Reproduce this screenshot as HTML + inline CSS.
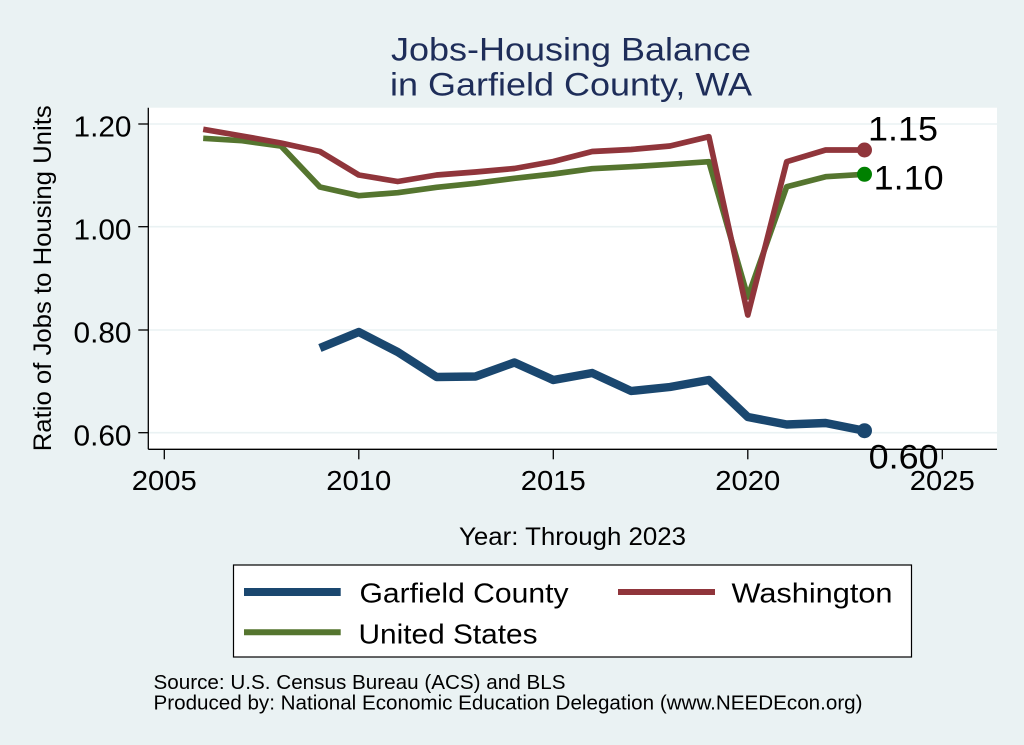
<!DOCTYPE html>
<html>
<head>
<meta charset="utf-8">
<style>
  html, body { margin: 0; padding: 0; background: #eaf2f3; }
  svg { display: block; }
  text { font-family: "Liberation Sans", Arial, sans-serif; }
</style>
</head>
<body>
<svg width="1024" height="745" viewBox="0 0 1024 745" xmlns="http://www.w3.org/2000/svg">
  <rect x="0" y="0" width="1024" height="745" fill="#eaf2f3"/>

  <!-- Title -->
  <text x="391" y="60.5" font-size="32" fill="#1e2d59" textLength="360" lengthAdjust="spacingAndGlyphs">Jobs-Housing Balance</text>
  <text x="390" y="95.5" font-size="32" fill="#1e2d59" textLength="362" lengthAdjust="spacingAndGlyphs">in Garfield County, WA</text>

  <!-- Plot region -->
  <rect x="148.3" y="107.7" width="848.7" height="341.6" fill="#ffffff"/>

  <!-- Gridlines -->
  <g stroke="#eaf2f3" stroke-width="1.6">
    <line x1="148.3" y1="124" x2="997" y2="124"/>
    <line x1="148.3" y1="226.7" x2="997" y2="226.7"/>
    <line x1="148.3" y1="330" x2="997" y2="330"/>
    <line x1="148.3" y1="432.7" x2="997" y2="432.7"/>
  </g>

  <!-- Axes -->
  <g stroke="#000" stroke-width="1.3">
    <line x1="148.3" y1="107.7" x2="148.3" y2="449.3"/>
    <line x1="148.3" y1="449.3" x2="997" y2="449.3"/>
    <line x1="138.3" y1="124" x2="148.3" y2="124"/>
    <line x1="138.3" y1="226.7" x2="148.3" y2="226.7"/>
    <line x1="138.3" y1="330" x2="148.3" y2="330"/>
    <line x1="138.3" y1="432.7" x2="148.3" y2="432.7"/>
    <line x1="164.3" y1="449.3" x2="164.3" y2="459.3"/>
    <line x1="358.8" y1="449.3" x2="358.8" y2="459.3"/>
    <line x1="553.3" y1="449.3" x2="553.3" y2="459.3"/>
    <line x1="747.8" y1="449.3" x2="747.8" y2="459.3"/>
    <line x1="942.3" y1="449.3" x2="942.3" y2="459.3"/>
  </g>

  <!-- Y tick labels -->
  <g font-size="29" fill="#000" text-anchor="end">
    <text x="131.5" y="136.7" textLength="58" lengthAdjust="spacingAndGlyphs">1.20</text>
    <text x="131.5" y="239.4" textLength="58" lengthAdjust="spacingAndGlyphs">1.00</text>
    <text x="131.5" y="342.7" textLength="58" lengthAdjust="spacingAndGlyphs">0.80</text>
    <text x="131.5" y="445.4" textLength="58" lengthAdjust="spacingAndGlyphs">0.60</text>
  </g>

  <!-- X tick labels -->
  <g font-size="28" fill="#000" text-anchor="middle">
    <text x="164.3" y="490" textLength="65" lengthAdjust="spacingAndGlyphs">2005</text>
    <text x="358.8" y="490" textLength="65" lengthAdjust="spacingAndGlyphs">2010</text>
    <text x="553.3" y="490" textLength="65" lengthAdjust="spacingAndGlyphs">2015</text>
    <text x="747.8" y="490" textLength="65" lengthAdjust="spacingAndGlyphs">2020</text>
    <text x="942.3" y="490" textLength="65" lengthAdjust="spacingAndGlyphs">2025</text>
  </g>

  <!-- Axis titles -->
  <text transform="translate(51,278.3) rotate(-90)" text-anchor="middle" font-size="25" fill="#000" textLength="346" lengthAdjust="spacingAndGlyphs">Ratio of Jobs to Housing Units</text>
  <text x="572.5" y="545" text-anchor="middle" font-size="25" fill="#000" textLength="227" lengthAdjust="spacingAndGlyphs">Year: Through 2023</text>

  <!-- Series -->
  <polyline fill="none" stroke="#55752f" stroke-width="5.7" stroke-linejoin="round" stroke-linecap="butt"
    points="203.2,138.3 242.1,140.7 281.0,146 319.9,187 358.8,195.7 397.7,192.7 436.6,187.3 475.5,183.3 514.4,178.3 553.3,174 592.2,168.7 631.1,166.7 670.0,164.3 708.9,161.7 747.8,297 786.7,186.7 825.6,176.7 864.5,174.3"/>
  <polyline fill="none" stroke="#90353b" stroke-width="5.7" stroke-linejoin="round" stroke-linecap="butt"
    points="203.2,129.3 242.1,136 281.0,143 319.9,151.5 358.8,175 397.7,181.5 436.6,175 475.5,172 514.4,168.5 553.3,161.5 592.2,151.5 631.1,149.5 670.0,146 708.9,136.7 747.8,315 786.7,161.7 825.6,150 864.5,150"/>
  <polyline fill="none" stroke="#1a476f" stroke-width="8.4" stroke-linejoin="round" stroke-linecap="butt"
    points="319.9,348 358.8,332 397.7,352 436.6,377 475.5,376.5 514.4,362.5 553.3,380 592.2,373 631.1,391 670.0,387 708.9,380 747.8,417 786.7,424.5 825.6,423 864.5,430.7"/>

  <!-- End markers -->
  <circle cx="864.5" cy="150" r="7.5" fill="#90353b"/>
  <circle cx="864.5" cy="174.3" r="7.5" fill="#008000"/>
  <circle cx="864.5" cy="430.7" r="7.5" fill="#1a476f"/>

  <!-- Data labels -->
  <g font-size="34" fill="#000">
    <text x="868" y="140.7" textLength="70" lengthAdjust="spacingAndGlyphs">1.15</text>
    <text x="873.7" y="189.3" textLength="70" lengthAdjust="spacingAndGlyphs">1.10</text>
    <text x="868.6" y="468.3" textLength="70" lengthAdjust="spacingAndGlyphs">0.60</text>
  </g>

  <!-- Legend -->
  <rect x="233.5" y="565" width="678" height="92" fill="#ffffff" stroke="#000" stroke-width="1.2"/>
  <line x1="244" y1="592" x2="340.7" y2="592" stroke="#1a476f" stroke-width="8"/>
  <line x1="618" y1="592" x2="715" y2="592" stroke="#90353b" stroke-width="6"/>
  <line x1="244" y1="632.3" x2="340.7" y2="632.3" stroke="#55752f" stroke-width="6"/>
  <g font-size="28" fill="#000">
    <text x="359.5" y="602.7" textLength="209" lengthAdjust="spacingAndGlyphs">Garfield County</text>
    <text x="731.5" y="602.7" textLength="161" lengthAdjust="spacingAndGlyphs">Washington</text>
    <text x="358.5" y="643.3" textLength="179" lengthAdjust="spacingAndGlyphs">United States</text>
  </g>

  <!-- Source notes -->
  <g font-size="20" fill="#000">
    <text x="153.5" y="689" textLength="412" lengthAdjust="spacingAndGlyphs">Source: U.S. Census Bureau (ACS) and BLS</text>
    <text x="153.5" y="709.3" textLength="709" lengthAdjust="spacingAndGlyphs">Produced by: National Economic Education Delegation (www.NEEDEcon.org)</text>
  </g>
</svg>
</body>
</html>
